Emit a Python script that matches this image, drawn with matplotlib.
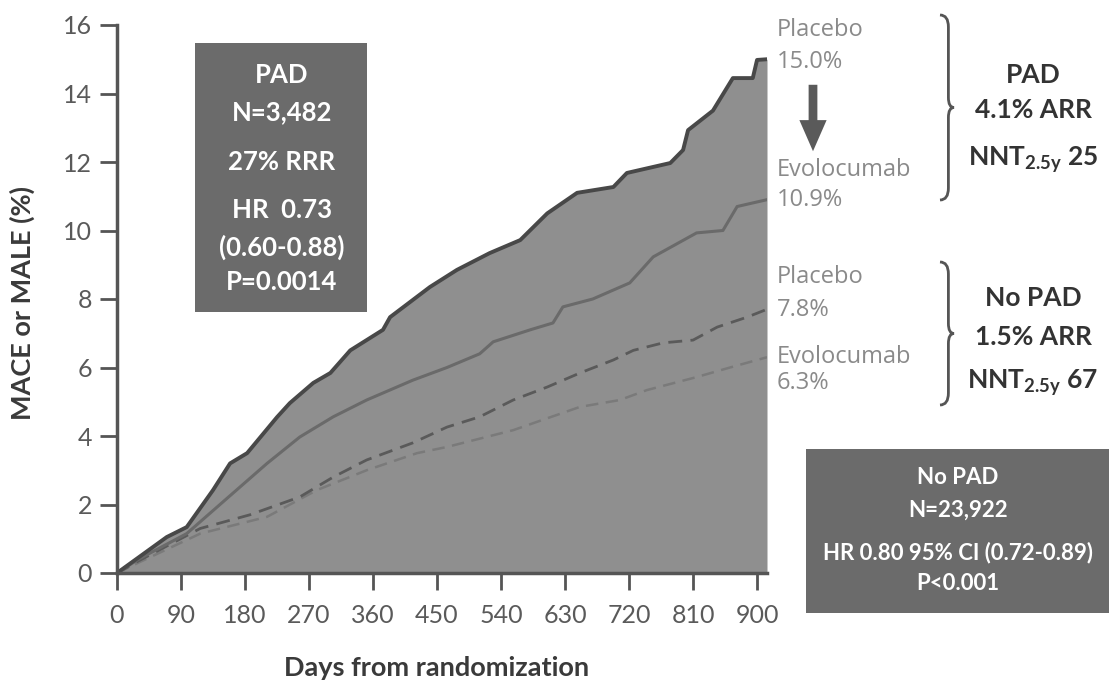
import matplotlib
matplotlib.use('Agg')
import matplotlib.pyplot as plt
from matplotlib.path import Path
from matplotlib.patches import PathPatch, Rectangle, FancyArrowPatch

W, H = 1109, 682

# Kaplan-Meier style curves (days, %)
days_pad_pbo = [0, 30, 70, 98, 135, 159, 183, 225, 243, 276, 300, 328, 374, 384, 440, 478,
                524, 567, 605, 647, 698, 717, 778, 796, 803, 838, 866, 894, 900, 914]
pad_pbo = [0, 0.45, 1.05, 1.34, 2.42, 3.2, 3.5, 4.55, 4.96, 5.55, 5.84, 6.5, 7.1, 7.47, 8.35, 8.85,
           9.34, 9.72, 10.5, 11.1, 11.27, 11.68, 11.97, 12.35, 12.93, 13.5, 14.45, 14.45, 14.98, 15.0]

days_pad_evo = [0, 30, 98, 163, 211, 257, 304, 351, 416, 464, 510, 529, 581, 613, 627, 669,
                721, 754, 815, 852, 872, 914]
pad_evo = [0, 0.4, 1.15, 2.33, 3.2, 3.97, 4.56, 5.05, 5.63, 6.0, 6.4, 6.75, 7.1, 7.3, 7.77, 8.0,
           8.47, 9.23, 9.93, 10.0, 10.7, 10.9]

days_nopad_pbo = [0, 30, 117, 187, 257, 304, 351, 416, 464, 510, 557, 605, 651, 698, 726, 768,
                  810, 844, 886, 914]
nopad_pbo = [0, 0.35, 1.3, 1.7, 2.22, 2.8, 3.3, 3.8, 4.26, 4.56, 5.05, 5.43, 5.84, 6.22, 6.5, 6.72,
             6.8, 7.18, 7.47, 7.7]

days_nopad_evo = [0, 30, 117, 211, 281, 351, 422, 464, 557, 651, 707, 745, 815, 862, 914]
nopad_evo = [0, 0.3, 1.15, 1.64, 2.42, 3.0, 3.5, 3.68, 4.17, 4.85, 5.05, 5.34, 5.72, 6.0, 6.3]

x_ticks = list(range(0, 901, 90))
y_ticks = list(range(0, 17, 2))

end_labels = [('Placebo', '15.0%'), ('Evolocumab', '10.9%'), ('Placebo', '7.8%'), ('Evolocumab', '6.3%')]
pad_box = ['PAD', 'N=3,482', '27% RRR', 'HR  0.73', '(0.60-0.88)', 'P=0.0014']
nopad_box = ['No PAD', 'N=23,922', 'HR 0.80 95% CI (0.72-0.89)', 'P<0.001']
right_pad = ['PAD', '4.1% ARR', r'NNT$_{\mathbf{2.5y}}$ 25']
right_nopad = ['No PAD', '1.5% ARR', r'NNT$_{\mathbf{2.5y}}$ 67']

plt.rcParams['font.family'] = ['Lato', 'DejaVu Sans']
plt.rcParams['mathtext.fontset'] = 'custom'
plt.rcParams['mathtext.bf'] = 'Lato:bold'
plt.rcParams['mathtext.rm'] = 'Lato'


def px(x, y):
    # pixel position in the 1109x682 canvas -> figure fraction
    return x / W, 1 - y / H


fig = plt.figure(figsize=(W / 100, H / 100), dpi=100)
ax = fig.add_axes([117 / W, (H - 573) / H, 650 / W, 548 / H])

ax.fill_between(days_pad_pbo, 0, pad_pbo, color='#8f8f8f', lw=0)
ax.plot(days_nopad_evo, nopad_evo, color='#7a7a7a', lw=1.8, ls=(0, (5, 3)))
ax.plot(days_nopad_pbo, nopad_pbo, color='#5a5a5a', lw=2.0, ls=(0, (5, 3)))
ax.plot(days_pad_evo, pad_evo, color='#6a6a6a', lw=2.2)
ax.plot(days_pad_pbo, pad_pbo, color='#484848', lw=2.8)

ax.set_xlim(0, 914)
ax.set_ylim(0, 16)
ax.set_xticks(x_ticks)
ax.set_yticks(y_ticks)
for s in ['top', 'right']:
    ax.spines[s].set_visible(False)
for s in ['left', 'bottom']:
    ax.spines[s].set_color('#555555')
    ax.spines[s].set_linewidth(2.5)
ax.tick_params(length=12, width=2, color='#555555', labelsize=18, labelcolor='#5a5a5a')
ax.tick_params(axis='x', pad=10)
ax.tick_params(axis='y', pad=6)
ax.set_facecolor('none')

fig.text(*px(22, 303), 'MACE or MALE (%)', rotation=90, ha='center', va='center',
         fontsize=19.5, fontweight='bold', color='#3a3a3a')
fig.text(*px(437, 668), 'Days from randomization', ha='center', va='center',
         fontsize=19.5, fontweight='bold', color='#3a3a3a')

# PAD summary box
fig.patches.append(Rectangle(px(195, 312), 172 / W, 269 / H, transform=fig.transFigure,
                             facecolor='#6b6b6b', edgecolor='none'))
for txt, y in zip(pad_box, [75, 112, 162, 210, 247, 282]):
    fig.text(*px(282, y), txt, ha='center', va='center', fontsize=18.5,
             fontweight='bold', color='white')

# No PAD summary box
fig.patches.append(Rectangle(px(806, 613), 303 / W, 164 / H, transform=fig.transFigure,
                             facecolor='#6b6b6b', edgecolor='none'))
for txt, y in zip(nopad_box, [478, 510, 553, 583]):
    fig.text(*px(958, y), txt, ha='center', va='center', fontsize=16,
             fontweight='bold', color='white')

# end-of-curve labels
for (name, val), (y1, y2) in zip(end_labels, [(30, 62), (170, 200), (277, 310), (357, 383)]):
    fig.text(*px(777, y1), name, ha='left', va='center', fontsize=17, color='#8a8a8a',
             family=['Open Sans', 'DejaVu Sans'])
    fig.text(*px(777, y2), val, ha='left', va='center', fontsize=17, color='#8a8a8a',
             family=['Open Sans', 'DejaVu Sans'])

fig.add_artist(FancyArrowPatch(
    px(813, 82), px(813, 154), transform=fig.transFigure,
    arrowstyle='simple,head_width=1.4,head_length=1.6,tail_width=0.45',
    mutation_scale=14, color='#5a5a5a', lw=0))


def brace(x0, y0, y1, w):
    ym = (y0 + y1) / 2
    pts = [(x0, y0), (x0 + w * 0.6, y0), (x0 + w * 0.6, y0 + 12),
           (x0 + w * 0.6, ym - 10),
           (x0 + w * 0.6, ym), (x0 + w, ym),
           (x0 + w * 0.6, ym), (x0 + w * 0.6, ym + 10),
           (x0 + w * 0.6, y1 - 12),
           (x0 + w * 0.6, y1), (x0, y1)]
    codes = [Path.MOVETO, Path.CURVE3, Path.CURVE3, Path.LINETO, Path.CURVE3, Path.CURVE3,
             Path.CURVE3, Path.CURVE3, Path.LINETO, Path.CURVE3, Path.CURVE3]
    verts = [px(x, y) for x, y in pts]
    fig.add_artist(PathPatch(Path(verts, codes), transform=fig.transFigure, facecolor='none',
                             edgecolor='#555555', lw=2))


brace(940, 15, 200, 14)
brace(940, 262, 405, 14)

for txt, y in zip(right_pad, [75, 110, 160]):
    fig.text(*px(1033, y), txt, ha='center', va='center', fontsize=19, fontweight='bold', color='#333333')
for txt, y in zip(right_nopad, [298, 337, 383]):
    fig.text(*px(1033, y), txt, ha='center', va='center', fontsize=19, fontweight='bold', color='#333333')

fig.savefig('out.png', dpi=100)
